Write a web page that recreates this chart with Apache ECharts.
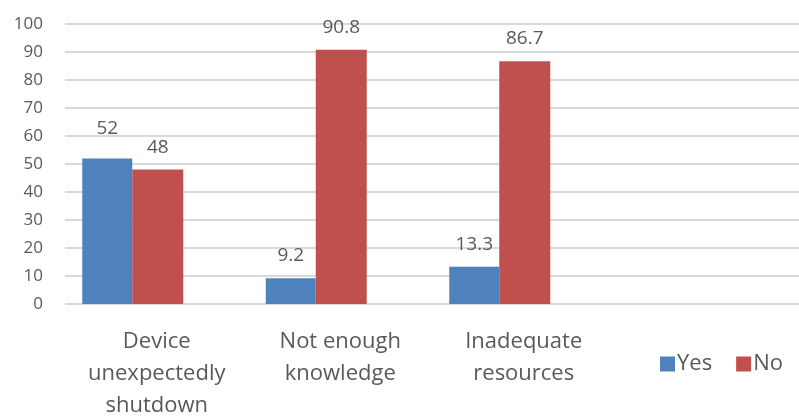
<!DOCTYPE html>
<html>
<head>
<meta charset="utf-8">
<script src="https://cdn.jsdelivr.net/npm/echarts@6/dist/echarts.min.js"></script>
<style>html,body{margin:0;padding:0;background:#fff;}#c{width:799px;height:417px;}</style>
</head>
<body>
<div id="c"></div>
<script>
var categories = ['Device\nunexpectedly\nshutdown', 'Not enough\nknowledge', 'Inadequate\nresources', ''];
var yesValues = [52, 9.2, 13.3];
var noValues = [48, 90.8, 86.7];
var yTicks = [0, 10, 20, 30, 40, 50, 60, 70, 80, 90, 100];

var textColor = '#595959';
var fontFam = '"Open Sans", "Noto Sans", sans-serif';

function mkData(vals, extraIdx) {
  return vals.map(function (v, i) {
    var d = { value: v };
    if (i === extraIdx) d.label = { distance: 20 };
    return d;
  });
}

var chart = echarts.init(document.getElementById('c'), null, { renderer: 'canvas' });
chart.setOption({
  animation: false,
  backgroundColor: '#ffffff',
  textStyle: { fontFamily: fontFam },
  legend: {
    data: ['Yes', 'No'],
    left: 655, top: 348,
    itemWidth: 15, itemHeight: 15, itemGap: 24,
    icon: 'rect',
    textStyle: { color: textColor, fontSize: 22, fontFamily: fontFam, padding: [0, 0, 0, -3] }
  },
  grid: [
    { left: 65, right: 0, top: 24, bottom: 113, containLabel: false, outerBoundsMode: 'none' },
    { left: 41, right: 24, top: 24, bottom: 113, containLabel: false, outerBoundsMode: 'none' }
  ],
  xAxis: [
    {
      type: 'category', gridIndex: 0, data: categories,
      axisLine: { show: false }, axisTick: { show: false },
      axisLabel: { color: textColor, fontSize: 22, lineHeight: 32, margin: 22, interval: 0, fontFamily: fontFam }
    },
    {
      type: 'category', gridIndex: 1, data: categories,
      axisLine: { show: false }, axisTick: { show: false }, axisLabel: { show: false }
    }
  ],
  yAxis: [
    {
      type: 'value', gridIndex: 0, min: 0, max: 100, interval: 10,
      axisLine: { show: false }, axisTick: { show: false },
      axisLabel: {
        color: textColor, fontSize: 17, margin: 22, fontFamily: fontFam,
        formatter: function (v) { return yTicks.indexOf(v) >= 0 ? String(v) : ''; }
      },
      splitLine: { lineStyle: { color: '#d9d9d9', width: 2 } }
    },
    {
      type: 'value', gridIndex: 1, min: 0, max: 100, interval: 10,
      axisLine: { show: false }, axisTick: { show: false }, axisLabel: { show: false },
      splitLine: { show: false }
    }
  ],
  series: [
    {
      name: 'Yes', type: 'bar', xAxisIndex: 1, yAxisIndex: 1,
      data: mkData(yesValues, 0),
      itemStyle: { color: '#4f81bd' },
      barWidth: 50, barGap: '0%',
      label: { show: true, position: 'top', distance: 13, color: textColor, fontSize: 19, fontFamily: fontFam }
    },
    {
      name: 'No', type: 'bar', xAxisIndex: 1, yAxisIndex: 1,
      data: mkData(noValues, -1),
      itemStyle: { color: '#c0504d' },
      barWidth: 51, barGap: '0%',
      label: { show: true, position: 'top', distance: 13, color: textColor, fontSize: 19, fontFamily: fontFam }
    }
  ]
});
</script>
</body>
</html>
